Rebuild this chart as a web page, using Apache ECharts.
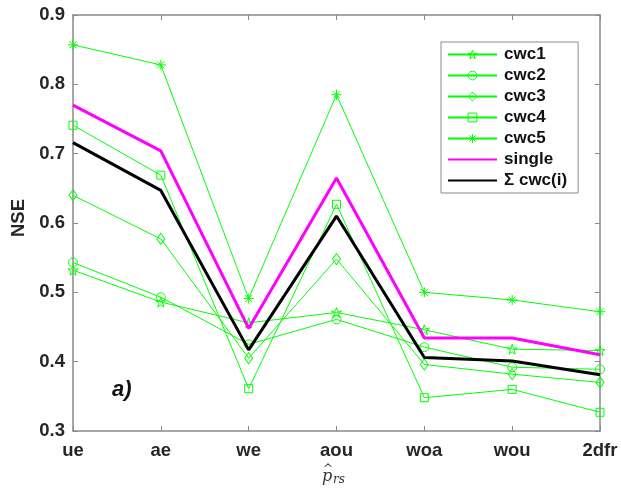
<!DOCTYPE html>
<html>
<head>
<meta charset="utf-8">
<script src="https://cdn.jsdelivr.net/npm/echarts@6/dist/echarts.min.js"></script>
<style>html,body{margin:0;padding:0;background:#fff;}#c{width:621px;height:491px;}</style>
</head>
<body>
<div id="c"></div>
<script>
const categories = ['ue', 'ae', 'we', 'aou', 'woa', 'wou', '2dfr'];
const cwc1 = [0.532, 0.486, 0.456, 0.471, 0.446, 0.418, 0.416];
const cwc2 = [0.543, 0.493, 0.425, 0.461, 0.421, 0.392, 0.389];
const cwc3 = [0.640, 0.577, 0.405, 0.548, 0.396, 0.382, 0.370];
const cwc4 = [0.741, 0.669, 0.361, 0.627, 0.348, 0.360, 0.327];
const cwc5 = [0.857, 0.828, 0.491, 0.785, 0.500, 0.489, 0.472];
const single = [0.770, 0.704, 0.448, 0.665, 0.434, 0.434, 0.410];
const sumCwc = [0.716, 0.647, 0.417, 0.610, 0.406, 0.401, 0.381];
const yTicks = { min: 0.3, max: 0.9, step: 0.1 };

const GREEN = '#00ff00';
const starPath = 'path://M100,0L122.45,69.1L195.1,69.1L136.3,111.8L158.8,180.9L100,138.2L41.2,180.9L63.7,111.8L4.9,69.1L77.55,69.1Z';
const astPath = 'path://M50,0L50,100M0,50L100,50M15,15L85,85M15,85L85,15';
const hollow = { color: 'rgba(0,0,0,0)', borderColor: GREEN, borderWidth: 1 };

function greenSeries(name, data, symbol, size) {
  return {
    name: name, type: 'line', data: data, symbol: symbol, symbolSize: size,
    showAllSymbol: true,
    lineStyle: { color: GREEN, width: 1 },
    itemStyle: hollow,
    emphasis: { disabled: true }, animation: false, z: 2
  };
}

const chart = echarts.init(document.getElementById('c'), null, { renderer: 'canvas' });
const axisLine = { show: true, lineStyle: { color: '#8a8a8a', width: 1.5 } };
const axisTick = { show: true, inside: true, length: 5, lineStyle: { color: '#8a8a8a', width: 1 } };
const labelFont = { fontFamily: 'Liberation Sans', fontWeight: 'bold', fontSize: 18.5, color: '#262626' };

chart.setOption({
  animation: false,
  grid: { left: 73, right: 21, top: 15, bottom: 60, show: false },
  legend: {
    orient: 'vertical', left: 441, top: 42,
    padding: [4, 11, 4, 6],
    itemWidth: 49, itemHeight: 11, itemGap: 4,
    backgroundColor: '#fff', borderColor: '#8a8a8a', borderWidth: 1, borderRadius: 0,
    textStyle: { fontFamily: 'Liberation Sans', fontWeight: 'bold', fontSize: 17, lineHeight: 17, color: '#111', padding: [0, 0, 0, 2] },
    data: [
      { name: 'cwc1', itemStyle: hollow }, { name: 'cwc2', itemStyle: hollow }, { name: 'cwc3', itemStyle: hollow },
      { name: 'cwc4', itemStyle: hollow }, { name: 'cwc5', itemStyle: hollow },
      { name: 'single', itemStyle: { opacity: 0 } },
      { name: 'Σ cwc(i)', itemStyle: { opacity: 0 } }
    ],
    selectedMode: false
  },
  xAxis: [
    {
      type: 'category', data: categories, boundaryGap: false, position: 'bottom',
      axisLine: axisLine, axisTick: Object.assign({ alignWithLabel: true, interval: 0 }, axisTick),
      axisLabel: Object.assign({ margin: 10, interval: 0 }, labelFont),
      splitLine: { show: false }
    },
    {
      type: 'category', data: categories, boundaryGap: false, position: 'top',
      axisLine: axisLine, axisTick: Object.assign({ interval: 0 }, axisTick),
      axisLabel: { show: false }, splitLine: { show: false }
    }
  ],
  yAxis: [
    {
      type: 'value', min: yTicks.min, max: yTicks.max, interval: yTicks.step, position: 'left',
      name: 'NSE', nameLocation: 'middle', nameGap: 42, nameRotate: 90,
      nameTextStyle: { fontFamily: 'Liberation Sans', fontWeight: 'bold', fontSize: 18.5, color: '#262626', padding: [0, 0, 0, 10] },
      axisLine: axisLine, axisTick: axisTick,
      axisLabel: Object.assign({ margin: 8, formatter: v => v.toFixed(1) }, labelFont),
      splitLine: { show: false }
    },
    {
      type: 'value', min: yTicks.min, max: yTicks.max, interval: yTicks.step, position: 'right',
      axisLine: axisLine, axisTick: axisTick, axisLabel: { show: false }, splitLine: { show: false }
    }
  ],
  series: [
    greenSeries('cwc1', cwc1, starPath, 10),
    greenSeries('cwc2', cwc2, 'circle', 9),
    greenSeries('cwc3', cwc3, 'diamond', [8, 11]),
    greenSeries('cwc4', cwc4, 'rect', 8),
    greenSeries('cwc5', cwc5, astPath, 10),
    { name: 'single', type: 'line', data: single, symbol: 'none', lineStyle: { color: '#ff00ff', width: 3 }, itemStyle: { color: '#ff00ff' }, z: 3 },
    { name: 'Σ cwc(i)', type: 'line', data: sumCwc, symbol: 'none', lineStyle: { color: '#000000', width: 3 }, itemStyle: { color: '#000000' }, z: 4 }
  ],
  graphic: [
    { type: 'text', left: 112, top: 379, style: { text: 'a)', font: 'italic bold 22px "Liberation Sans"', fill: '#111' } },
    { type: 'text', left: 322, top: 469, style: { text: 'p', font: 'italic 16px "DejaVu Serif"', fill: '#333' } },
    { type: 'text', left: 323, top: 464, style: { text: '^', font: '12px "DejaVu Serif"', fill: '#333' } },
    { type: 'text', left: 333, top: 474, style: { text: 'rs', font: 'italic 12px "DejaVu Serif"', fill: '#333' } }
  ]
});
</script>
</body>
</html>
